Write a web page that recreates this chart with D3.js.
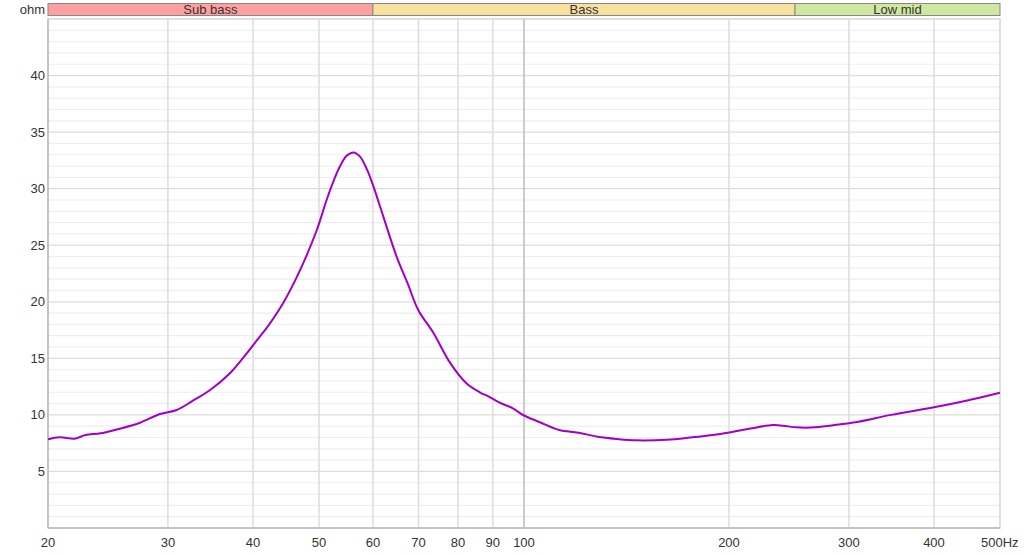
<!DOCTYPE html>
<html>
<head>
<meta charset="utf-8">
<script src="https://cdn.jsdelivr.net/npm/d3@7"></script>
<style>
  body { margin: 0; background: #fff; }
  svg { display: block; font-family: "Liberation Sans", Arial, sans-serif; }
</style>
</head>
<body>
<svg id="chart" width="1024" height="555"></svg>
<script>
// Impedance curve (Hz, ohm)
const freqs = [20, 20.8, 21.9, 22.7, 23.9, 25.5, 27.3, 29.2, 30.9, 32.6, 34.6, 37.0, 39.0, 40.9,
  41.9, 44.3, 46.9, 49.6, 51.3, 52.5, 53.7, 54.9, 56.2, 57.4, 58.8, 60.1, 62.1, 65.0, 67.5,
  69.9, 73.7, 77.9, 82.3, 86.1, 88.9, 92.1, 96.3, 99.7, 105.5, 112.6, 120.2, 128.3, 137, 146,
  162, 176.8, 193, 215, 232, 240, 251, 268, 290, 310, 346, 400, 446, 500];
const ohms = [7.84, 8.02, 7.9, 8.22, 8.37, 8.78, 9.31, 10.08, 10.43, 11.23, 12.2, 13.68, 15.3, 16.9,
  17.7, 19.9, 22.8, 26.3, 29.0, 30.65, 32.0, 32.9, 33.2, 32.85, 31.7, 30.2, 27.6, 24.0, 21.6,
  19.3, 17.2, 14.6, 12.8, 12.0, 11.6, 11.08, 10.58, 9.99, 9.35, 8.66, 8.43, 8.07, 7.87, 7.75,
  7.8, 8.02, 8.28, 8.8, 9.1, 9.05, 8.9, 8.9, 9.15, 9.4, 10.0, 10.67, 11.25, 11.96];

// Frequency bands along the top
const bandNames = ["Sub bass", "Bass", "Low mid"];
const bandStarts = [20, 60, 250];
const bandEnds = [60, 250, 500];
const bandColors = ["#ff9f9f", "#f8e09f", "#cfe89f"];

const xTicks = [20, 30, 40, 50, 60, 70, 80, 90, 100, 200, 300, 400, 500];
const yTicks = [5, 10, 15, 20, 25, 30, 35, 40];

const margin = { left: 48, right: 24, top: 19, bottom: 27 };
const width = 1024, height = 555;

const svg = d3.select("#chart");

const x = d3.scaleLog()
  .domain([20, 500])
  .range([margin.left, width - margin.right]);

const y = d3.scaleLinear()
  .domain([0, 45])
  .range([height - margin.bottom, margin.top]);

// Minor horizontal grid (every ohm)
const grid = svg.append("g").attr("class", "grid");
grid.selectAll(".hminor")
  .data(d3.range(1, 46).filter((v) => v % 5 !== 0))
  .enter()
  .append("line")
  .attr("x1", x(20))
  .attr("x2", x(500))
  .attr("y1", (d) => y(d))
  .attr("y2", (d) => y(d))
  .attr("stroke", "#eeeeee")
  .attr("stroke-width", 1.2);

// Major horizontal grid
grid.selectAll(".hmajor")
  .data(yTicks)
  .enter()
  .append("line")
  .attr("x1", x(20))
  .attr("x2", x(500))
  .attr("y1", (d) => y(d))
  .attr("y2", (d) => y(d))
  .attr("stroke", "#dddddd")
  .attr("stroke-width", 1.2);

// Vertical grid
grid.selectAll(".v")
  .data(xTicks.filter((d) => d !== 20 && d !== 500))
  .enter()
  .append("line")
  .attr("x1", (d) => x(d))
  .attr("x2", (d) => x(d))
  .attr("y1", y(45))
  .attr("y2", y(0))
  .attr("stroke", (d) => (d === 100 ? "#bbbbbb" : "#dddddd"))
  .attr("stroke-width", 1.5);

// Plot frame
svg.append("rect")
  .attr("x", x(20))
  .attr("y", y(45))
  .attr("width", x(500) - x(20))
  .attr("height", y(0) - y(45))
  .attr("fill", "none")
  .attr("stroke", "#cccccc")
  .attr("stroke-width", 1.2);

svg.append("line")
  .attr("x1", x(20)).attr("x2", x(500))
  .attr("y1", y(0)).attr("y2", y(0))
  .attr("stroke", "#bbbbbb").attr("stroke-width", 1.5);
svg.append("line")
  .attr("x1", x(20)).attr("x2", x(20))
  .attr("y1", y(45)).attr("y2", y(0))
  .attr("stroke", "#bbbbbb").attr("stroke-width", 1.5);

// Band bar
const band = svg.append("g").attr("class", "bands");
const bands = bandNames.map((name, i) => ({
  name, start: bandStarts[i], end: bandEnds[i], color: bandColors[i],
}));
band.selectAll("rect")
  .data(bands)
  .enter()
  .append("rect")
  .attr("x", (d) => x(d.start))
  .attr("y", 3.5)
  .attr("width", (d) => x(d.end) - x(d.start))
  .attr("height", 12)
  .attr("fill", (d) => d.color)
  .attr("stroke", "#888888")
  .attr("stroke-width", 1);
band.selectAll("text")
  .data(bands)
  .enter()
  .append("text")
  .attr("x", (d) => (x(d.start) + x(d.end)) / 2)
  .attr("y", 14)
  .attr("text-anchor", "middle")
  .attr("font-size", "13px")
  .attr("fill", "#333")
  .text((d) => d.name);

// Y tick labels
svg.append("g")
  .selectAll("text")
  .data(yTicks)
  .enter()
  .append("text")
  .attr("x", 45)
  .attr("y", (d) => y(d) + 4.5)
  .attr("text-anchor", "end")
  .attr("font-size", "13px")
  .attr("fill", "#333")
  .text((d) => d);

svg.append("text")
  .attr("x", 45)
  .attr("y", 14)
  .attr("text-anchor", "end")
  .attr("font-size", "13px")
  .attr("fill", "#333")
  .text("ohm");

// X tick labels
svg.append("g")
  .selectAll("text")
  .data(xTicks)
  .enter()
  .append("text")
  .attr("x", (d) => (d === 500 ? x(d) - 19 : x(d)))
  .attr("y", 547)
  .attr("text-anchor", (d) => (d === 500 ? "start" : "middle"))
  .attr("font-size", "13px")
  .attr("fill", "#333")
  .text((d) => (d === 500 ? "500Hz" : d));

// Impedance curve
const points = freqs.map((f, i) => [f, ohms[i]]);
const line = d3.line()
  .x((d) => x(d[0]))
  .y((d) => y(d[1]))
  .curve(d3.curveCatmullRom.alpha(0.5));

svg.append("path")
  .datum(points)
  .attr("d", line)
  .attr("fill", "none")
  .attr("stroke", "#a100c9")
  .attr("stroke-width", 2)
  .attr("stroke-linejoin", "round");
</script>
</body>
</html>
